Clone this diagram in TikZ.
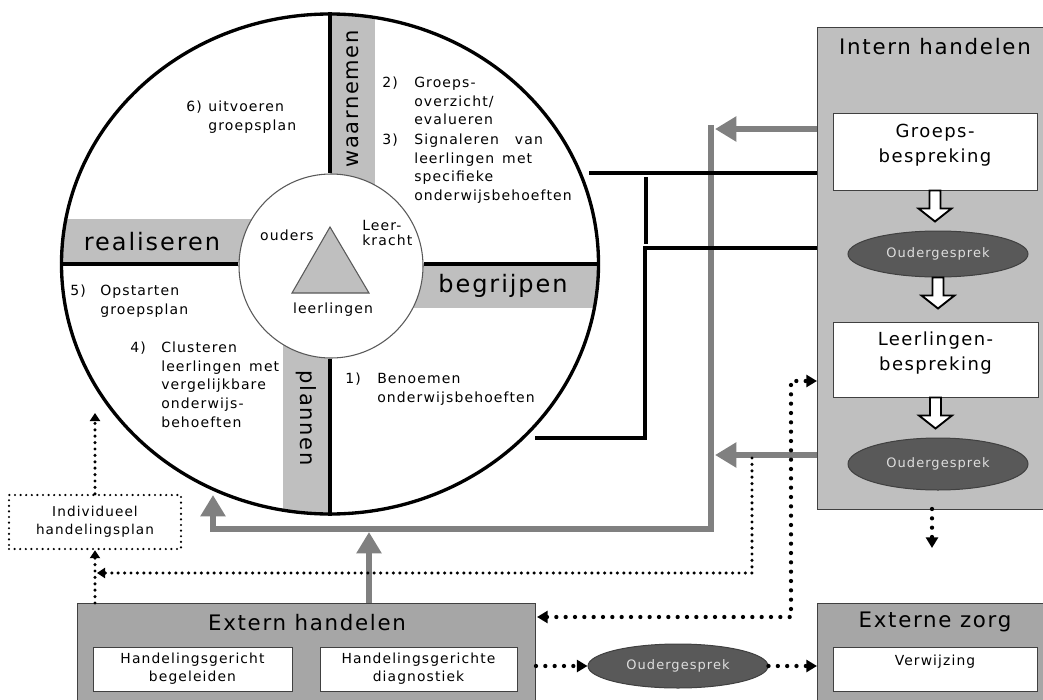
\documentclass[tikz,border=0pt]{standalone}
\usepackage{fontspec}
\setmainfont{DejaVu Sans}[LetterSpace=8.0]
\usepackage{tikz}
\usetikzlibrary{arrows.meta}
\usetikzlibrary{shapes.geometric}
\usetikzlibrary{positioning}
\usetikzlibrary{calc}

\definecolor{bandgray}{RGB}{191,191,191}
\definecolor{boxgray}{RGB}{166,166,166}
\definecolor{ovalgray}{RGB}{89,89,89}
\definecolor{ovaltext}{RGB}{222,222,222}
\definecolor{flowgray}{RGB}{128,128,128}
\definecolor{edgegray}{RGB}{64,64,64}

% hollow block arrow pointing down, tail at #1
\newcommand{\hollowdown}[1]{%
  \draw[line width=1.4pt,fill=white] ($(#1)+(-5.5,0)$) -- ++(11,0) -- ++(0,18) -- ++(11,0) -- ++(-16.5,13) -- ++(-16.5,-13) -- ++(11,0) -- cycle;}

\begin{document}
\begin{tikzpicture}[x=0.75pt,y=0.75pt,yscale=-1,xscale=1,
  txt/.style={anchor=north west,inner sep=0pt,align=left,font=\fontsize{10.5}{13.9}\selectfont},
  band/.style={inner sep=0pt,font=\fontsize{18}{20}\selectfont},
  vband/.style={inner sep=0pt,font=\fontsize{15.75}{18}\selectfont},
  paneltitle/.style={inner sep=0pt,font=\fontsize{16}{18}\selectfont},
  panel/.style={draw=edgegray,line width=0.75pt,anchor=north west,inner sep=0pt},
  whitebox/.style={draw=edgegray,fill=white,line width=0.75pt,inner sep=0pt,align=center,font=\fontsize{10.4}{13.5}\selectfont},
  boxtext/.style={inner sep=0pt,align=center,font=\fontsize{13.5}{18.75}\selectfont},
  oval/.style={ellipse,draw=edgegray,fill=ovalgray,text=ovaltext,line width=0.75pt,inner sep=0pt,minimum width=135pt,font=\fontsize{9.75}{11}\selectfont},
  flow/.style={draw=flowgray,line width=4.8pt},
  flowtip/.style={-{Triangle[width=18pt,length=16pt]}},
  bracket/.style={line width=2.6pt},
  finedot/.style={line width=2.6pt,line cap=round,dash pattern=on 0pt off 4.8pt,-{Triangle[width=7.5pt,length=6pt]}},
  coarsedot/.style={line width=3.2pt,line cap=round,dash pattern=on 0pt off 7pt},
  coarsetip/.style={-{Triangle[width=9pt,length=8pt]}}
]
\useasboundingbox (0,0) rectangle (1043,700);

% wheel bands
\begin{scope}
\clip (330,264) ellipse [x radius=268.5, y radius=250];
\fill[bandgray] (331,0) rectangle (375,200);
\fill[bandgray] (0,219) rectangle (270,263);
\fill[bandgray] (390,263) rectangle (620,308);
\fill[bandgray] (283,330) rectangle (330,530);
\end{scope}
\node[ellipse,draw,line width=2.5pt,minimum width=402.75pt,minimum height=375pt,inner sep=0pt] (wheel) at (330,264) {};
\node[circle,draw=ovalgray,fill=white,line width=0.8pt,minimum size=138pt,inner sep=0pt] (hub) at (331,266) {};
\draw[bracket] (wheel.north) -- (wheel.north |- hub.north);
\draw[bracket] (wheel.south) -- (wheel.south |- hub.south);
\draw[bracket] (wheel.west) -- (wheel.west -| hub.west);
\draw[bracket] (wheel.east) -- (wheel.east -| hub.east);
\draw[fill=bandgray,draw=ovalgray,line width=0.8pt] (330,227) -- (369,293) -- (292,293) -- cycle;

% Text Node
\node[txt,anchor=center] (ouders) at (287,235) {ouders};
\node[txt,font=\fontsize{10.5}{11.3}\selectfont] (leerkracht) at (362,220) {Leer-\\kracht};
\node[txt,anchor=center] (leerlingen) at (333,310) {leerlingen};
\node[band] (realiseren) at (152,242) {realiseren};
\node[band] (begrijpen) at (503,286) {begrijpen};
\node[vband,rotate=90] (waarnemen) at (353,99) {waarnemen};
\node[vband,rotate=-90] (plannen) at (306,418) {plannen};

% Text Node
\node[txt] (n6) at (186,101) {6)};
\node[txt] (t6) at (208,101) {uitvoeren\\groepsplan};
\node[txt] (n2) at (382,77) {2)};
\node[txt] (t2) at (414,77) {Groeps-\\overzicht/\\evalueren};
\node[txt] (n3) at (382,134) {3)};
\node[txt] (t3) at (414,134) {Signaleren\hspace{12pt}van\\leerlingen\hspace{6pt}met\\specifieke\\onderwijsbehoeften};
\node[txt] (n5) at (70,285) {5)};
\node[txt] (t5) at (100,285) {Opstarten\\groepsplan};
\node[txt] (n4) at (130,342) {4)};
\node[txt] (t4) at (161,342) {Clusteren\\leerlingen\hspace{6pt}met\\vergelijkbare\\onderwijs-\\behoeften};
\node[txt] (n1) at (345,373) {1)};
\node[txt] (t1) at (377,373) {Benoemen\\onderwijsbehoeften};

% Intern handelen
\node[panel,fill=bandgray,minimum width=180pt,minimum height=361.5pt] (intern) at (817,27) {};
\node[paneltitle] (interntitle) at (935,47) {Intern handelen};
\node[whitebox,minimum width=153pt,minimum height=57.75pt] (groeps) at (935,151.5) {};
\node[boxtext] (groepslabel) at (935,145) {Groeps-\\bespreking};
\node[oval,minimum height=34.5pt] (oval1) at (938,254) {Oudergesprek};
\node[whitebox,minimum width=153.75pt,minimum height=56.25pt] (leerl) at (935.5,359.5) {};
\node[boxtext] (leerllabel) at (935.5,353) {Leerlingen-\\bespreking};
\node[oval,minimum height=39pt] (oval2) at (938,464) {Oudergesprek};
\hollowdown{groeps.south}
\hollowdown{oval1.south}
\hollowdown{leerl.south}

% Extern handelen, Externe zorg
\node[panel,fill=boxgray,minimum width=343.5pt,minimum height=82.5pt] (extern) at (77,603) {};
\node[paneltitle] (externtitle) at (307,623) {Extern handelen};
\node[whitebox,minimum width=149.25pt,minimum height=33pt] (begeleiden) at (192.5,669) {Handelingsgericht\\begeleiden};
\node[whitebox,minimum width=147.75pt,minimum height=33pt] (diagnostiek) at (418.5,669) {Handelingsgerichte\\diagnostiek};
\node[oval,minimum height=33pt] (oval3) at (678,666) {Oudergesprek};
\node[panel,fill=boxgray,minimum width=180pt,minimum height=82.5pt] (zorg) at (817,603) {};
\node[paneltitle] (zorgtitle) at (935,622) {Externe zorg};
\node[whitebox,minimum width=153pt,minimum height=33pt] (verwijzing) at (935,669) {};
\node[txt,anchor=center,font=\fontsize{10.4}{13.5}\selectfont] (verwijzinglabel) at (935,662) {Verwijzing};
\node[draw,line width=1.8pt,line cap=round,dash pattern=on 0pt off 4.2pt,minimum width=129pt,minimum height=40.5pt,inner sep=0pt,align=center,font=\fontsize{10.2}{13.5}\selectfont] (ihp) at (95,522) {Individueel\\handelingsplan};

%Straight Lines
\coordinate (fbA) at (817,129);
\coordinate (fbB) at (715,129);
\coordinate (fbC) at (817,455);
\coordinate (fbD) at (715,455);
\coordinate (railtop) at (711,125);
\coordinate (railbot) at (711,529);
\coordinate (railleft) at (213,529);
\coordinate (railtip) at (213,495);
\coordinate (extup) at (369,532);
\draw[flow,flowtip] (fbA) -- (fbB);
\draw[flow,flowtip] (fbC) -- (fbD);
\draw[flow,flowtip] (railtop) -- (railbot) -- (railleft) -- (railtip);
\draw[flow,flowtip] (extern.north -| extup) -- (extup);

%Straight Lines
\coordinate (brA) at (589,173);
\coordinate (brB) at (646,177);
\coordinate (brC) at (646,244);
\coordinate (brD) at (535,438);
\coordinate (brE) at (645,438);
\coordinate (brF) at (645,248);
\draw[bracket] (brA) -- (intern.west |- brA);
\draw[bracket] (brB) -- (brC);
\draw[bracket] (brD) -- (brE) -- (brF) -- (intern.west |- brF);

% dotted arrows
\coordinate (dA1) at (752,458);
\coordinate (dA2) at (752,573);
\coordinate (dA3) at (97,573);
\coordinate (ihpgoal) at (95,413);
\draw[finedot] (dA1) -- (dA2) -- (dA3);
\draw[finedot] (ihp.north) -- (ihpgoal);
\draw[finedot] (extern.north -| ihp.south) -- (ihp.south);
\coordinate (dB1) at (537,617);
\coordinate (dB2) at (791,617);
\coordinate (dB3) at (791,381);
\draw[coarsedot,{Triangle[width=9pt,length=8pt]}-{Triangle[width=9pt,length=8pt]}] (dB1) -- (dB2) -- (dB3) -- (intern.west |- dB3);
\coordinate (dC1) at (932,509);
\coordinate (dC2) at (932,548);
\draw[coarsedot,coarsetip] (dC1) -- (dC2);
\draw[coarsedot,coarsetip] (extern.east |- oval3.west) -- (oval3.west);
\draw[coarsedot,coarsetip] (oval3.east) -- (zorg.west |- oval3.east);
\end{tikzpicture}
\end{document}
